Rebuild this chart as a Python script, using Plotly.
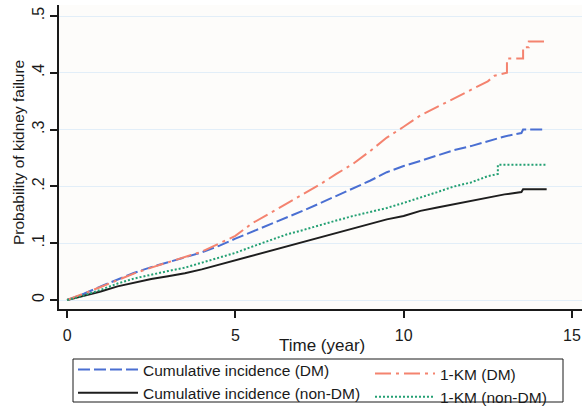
import plotly.graph_objects as go

# ---- data ----
ci_dm_t = [0, 0.5, 1, 1.5, 2, 2.5, 3, 3.5, 4, 4.5, 5, 5.5, 6, 6.5, 7, 7.5, 8, 8.5, 9, 9.5,
           10, 10.5, 11, 11.5, 12, 12.5, 13, 13.5, 13.55, 14.15]
ci_dm_y = [0, 0.011, 0.024, 0.036, 0.048, 0.058, 0.066, 0.075, 0.084, 0.095, 0.108, 0.120,
           0.132, 0.144, 0.157, 0.170, 0.183, 0.196, 0.210, 0.225, 0.236, 0.245, 0.255,
           0.264, 0.271, 0.279, 0.288, 0.294, 0.300, 0.300]

ci_non_t = [0, 0.5, 1, 1.5, 2, 2.5, 3, 3.5, 4, 4.5, 5, 5.5, 6, 6.5, 7, 7.5, 8, 8.5, 9, 9.5,
            10, 10.5, 11, 11.5, 12, 12.5, 13, 13.5, 13.55, 14.25]
ci_non_y = [0, 0.007, 0.015, 0.024, 0.031, 0.037, 0.042, 0.047, 0.054, 0.062, 0.070, 0.078,
            0.086, 0.094, 0.102, 0.110, 0.118, 0.126, 0.135, 0.142, 0.148, 0.157, 0.163,
            0.169, 0.175, 0.181, 0.186, 0.190, 0.195, 0.195]

km_dm_t = [0, 0.5, 1, 1.5, 2, 2.5, 3, 3.5, 4, 4.5, 5, 5.5, 6, 6.5, 7, 7.5, 8, 8.5, 9, 9.5,
           10, 10.5, 11, 11.5, 12, 12.5, 12.7, 13.07, 13.07, 13.55, 13.55, 13.72, 13.72, 14.17]
km_dm_y = [0, 0.011, 0.023, 0.035, 0.047, 0.057, 0.066, 0.075, 0.085, 0.099, 0.113, 0.135,
           0.152, 0.170, 0.187, 0.203, 0.222, 0.240, 0.262, 0.286, 0.305, 0.325, 0.340,
           0.355, 0.370, 0.385, 0.395, 0.400, 0.425, 0.425, 0.445, 0.445, 0.455, 0.455]

km_non_t = [0, 0.5, 1, 1.5, 2, 2.5, 3, 3.5, 4, 4.5, 5, 5.5, 6, 6.5, 7, 7.5, 8, 8.5, 9, 9.5,
            10, 10.5, 11, 11.5, 12, 12.5, 12.8, 12.8, 14.25]
km_non_y = [0, 0.008, 0.018, 0.029, 0.038, 0.045, 0.051, 0.057, 0.066, 0.074, 0.083, 0.094,
            0.105, 0.115, 0.123, 0.132, 0.140, 0.148, 0.155, 0.162, 0.171, 0.180, 0.190,
            0.200, 0.207, 0.218, 0.222, 0.238, 0.238]

y_tick_vals = [0, 0.1, 0.2, 0.3, 0.4, 0.5]
y_tick_text = ["0", ".1", ".2", ".3", ".4", ".5"]
x_tick_vals = [0, 5, 10, 15]

FONT = "Liberation Sans, Arial, sans-serif"
INK = "#1a1a1a"

# pixel -> paper helpers (plot area: x 59..582, y 5..309)
def px(x):
    return (x - 59) / 523.0

def py(y):
    return (309 - y) / 304.0

fig = go.Figure()
fig.add_trace(go.Scatter(x=ci_dm_t, y=ci_dm_y, mode="lines", name="Cumulative incidence (DM)",
                         legend="legend",
                         line=dict(color="#4a6fd2", width=2, dash="12px,4px")))
fig.add_trace(go.Scatter(x=ci_non_t, y=ci_non_y, mode="lines", name="Cumulative incidence (non-DM)",
                         legend="legend",
                         line=dict(color="#1e1e1e", width=2)))
fig.add_trace(go.Scatter(x=km_dm_t, y=km_dm_y, mode="lines", name="1-KM (DM)",
                         legend="legend2",
                         line=dict(color="#f4836f", width=2, dash="16px,5px,3px,5px")))
fig.add_trace(go.Scatter(x=km_non_t, y=km_non_y, mode="lines", name="1-KM (non-DM)",
                         legend="legend2",
                         line=dict(color="#23a073", width=2, dash="2px,2px")))

legend_common = dict(
    orientation="v", xanchor="left", yanchor="top",
    bgcolor="rgba(0,0,0,0)", borderwidth=0,
    font=dict(family=FONT, size=15.5, color=INK),
    itemwidth=60, traceorder="normal",
)

fig.update_layout(
    width=582, height=412,
    margin=dict(l=59, r=0, t=5, b=103, autoexpand=False),
    paper_bgcolor="white",
    plot_bgcolor="#fdfcfa",
    font=dict(family=FONT, size=16, color=INK),
    showlegend=True,
    legend=dict(x=px(73), y=py(353), **legend_common),
    legend2=dict(x=px(370), y=py(357), **legend_common),
    xaxis=dict(
        range=[-0.24, 15.30],
        tickvals=x_tick_vals,
        ticks="outside", ticklen=7, tickwidth=1.5, tickcolor=INK,
        ticklabelstandoff=4,
        showline=True, linecolor=INK, linewidth=2,
        showgrid=False, zeroline=False,
        tickfont=dict(size=16),
    ),
    yaxis=dict(
        range=[-0.0158, 0.5194],
        tickvals=y_tick_vals, ticktext=y_tick_text,
        tickangle=-90,
        ticks="outside", ticklen=7, tickwidth=1.5, tickcolor=INK,
        showline=True, linecolor=INK, linewidth=2,
        showgrid=True, gridcolor="#e2eef8", gridwidth=1,
        zeroline=False,
        tickfont=dict(size=16),
    ),
    shapes=[
        dict(type="rect", xref="paper", yref="paper",
             x0=px(73), x1=px(563), y0=py(402), y1=py(359),
             line=dict(color=INK, width=1), fillcolor="white", layer="below"),
    ],
    annotations=[
        dict(text="Time (year)", xref="paper", yref="paper",
             x=px(321.5), y=py(345),
             xanchor="center", yanchor="middle", showarrow=False,
             font=dict(family=FONT, size=17, color=INK)),
        dict(text="Probability of kidney failure", xref="paper", yref="paper",
             x=px(18), y=py(153), textangle=-90,
             xanchor="center", yanchor="middle", showarrow=False,
             font=dict(family=FONT, size=15.5, color=INK)),
    ],
)

fig.write_html("out.html",
               config={"displayModeBar": False},
               post_script="document.body.style.margin='0';document.body.style.padding='0';")
